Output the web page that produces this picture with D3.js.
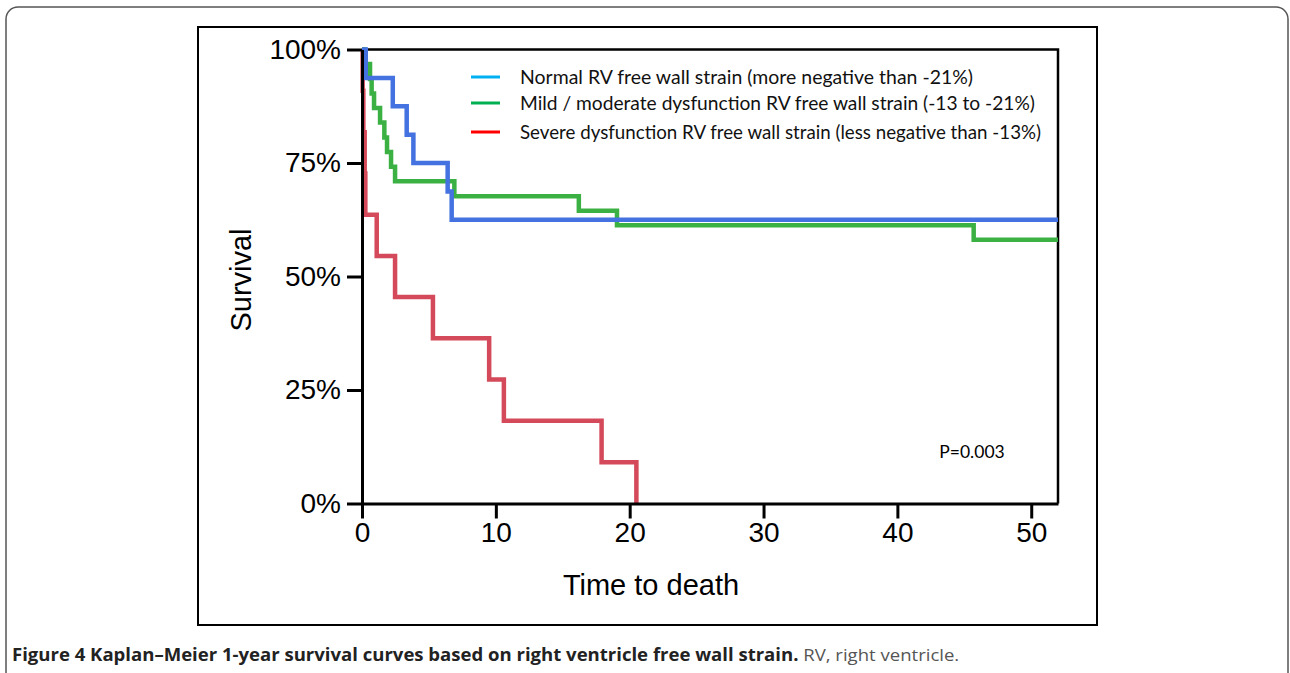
<!DOCTYPE html>
<html>
<head>
<meta charset="utf-8">
<script src="https://cdn.jsdelivr.net/npm/d3@7"></script>
<style>
  body { margin: 0; background: #fff; }
  svg { display: block; }
</style>
</head>
<body>
<div id="chart"></div>
<script>
// Kaplan-Meier curves, time (weeks) and survival (%)
const normalTimes = [0, 0.28, 2.3, 3.34, 3.84, 6.4, 6.7, 52];
const normalSurv  = [100, 93.75, 87.5, 81.25, 75, 68.75, 62.5, 62.5];

const mildTimes = [0, 0.22, 0.6, 0.72, 0.9, 1.35, 1.67, 1.87, 2.17, 2.47, 6.9, 16.2, 19.05, 45.7, 52];
const mildSurv  = [100, 96.8, 93.5, 90.3, 87.1, 83.9, 80.6, 77.4, 74.2, 71.0, 67.7, 64.5, 61.3, 58.1, 58.1];

const severeTimes = [0, 0.05, 0.1, 0.2, 0.25, 1.1, 2.47, 5.3, 9.5, 10.6, 17.9, 20.5];
const severeSurv  = [100, 90.9, 81.8, 72.7, 63.6, 54.5, 45.5, 36.4, 27.3, 18.2, 9.1, 0];

const legendLabels = [
    "Normal RV free wall strain (more negative than -21%)",
    "Mild / moderate dysfunction RV free wall strain (-13 to -21%)",
    "Severe dysfunction RV free wall strain (less negative than -13%)"
];
const legendColors = ["#00b0f0", "#00b050", "#ff0000"];
const curveColors = ["#4472e0", "#3bb143", "#d44a5a"];

const yTicks = [0, 25, 50, 75, 100];
const xTicks = [0, 10, 20, 30, 40, 50];

const width = 1290, height = 673;

let svg = d3.select("#chart").append("svg")
    .attr("width", width)
    .attr("height", height);

// outer page frame with rounded corners
svg.append("rect")
    .attr("x", 6).attr("y", 7)
    .attr("width", 1282).attr("height", 700)
    .attr("rx", 12)
    .attr("fill", "none")
    .attr("stroke", "#555")
    .attr("stroke-width", 1.5);

// figure box
svg.append("rect")
    .attr("x", 198).attr("y", 27)
    .attr("width", 899).attr("height", 598)
    .attr("fill", "none")
    .attr("stroke", "#000")
    .attr("stroke-width", 2);

const plot = { left: 362, right: 1058, top: 49.5, bottom: 503.5 };

let x = d3.scaleLinear().domain([0, 52]).range([plot.left, plot.right]);
let y = d3.scaleLinear().domain([0, 100]).range([plot.bottom, plot.top]);

// top and right frame of the plot area
svg.append("path")
    .attr("d", "M" + plot.left + "," + plot.top + "H" + plot.right + "V" + plot.bottom)
    .attr("fill", "none")
    .attr("stroke", "#000")
    .attr("stroke-width", 2.5);

let line = d3.line()
    .x(d => x(d[0]))
    .y(d => y(d[1]))
    .curve(d3.curveStepAfter);

const series = [
    { times: severeTimes, surv: severeSurv, color: curveColors[2] },
    { times: mildTimes, surv: mildSurv, color: curveColors[1] },
    { times: normalTimes, surv: normalSurv, color: curveColors[0] }
];

svg.append("g")
    .selectAll("path")
    .data(series)
    .enter().append("path")
    .attr("d", s => line(s.times.map((t, i) => [t, s.surv[i]])))
    .attr("fill", "none")
    .attr("stroke", s => s.color)
    .attr("stroke-width", 4.5);

// axes
let yAxis = svg.append("g")
    .attr("transform", "translate(" + plot.left + ",0)")
    .call(d3.axisLeft(y).tickValues(yTicks).tickFormat(d => d + "%")
        .tickSize(15).tickSizeOuter(0).tickPadding(6));

let xAxis = svg.append("g")
    .attr("transform", "translate(0," + plot.bottom + ")")
    .call(d3.axisBottom(x).tickValues(xTicks)
        .tickSize(15).tickSizeOuter(0).tickPadding(4));

[yAxis, xAxis].forEach(a => {
    a.select(".domain").attr("stroke", "#000").attr("stroke-width", 3);
    a.selectAll(".tick line").attr("stroke", "#000").attr("stroke-width", 3);
    a.selectAll(".tick text")
        .attr("fill", "#000")
        .style("font-family", "'Liberation Sans', Arial, sans-serif")
        .style("font-size", "28px");
});

// axis titles
svg.append("text")
    .attr("x", 651).attr("y", 595)
    .attr("text-anchor", "middle")
    .style("font-family", "'Liberation Sans', Arial, sans-serif")
    .style("font-size", "29px")
    .text("Time to death");

svg.append("text")
    .attr("transform", "translate(251,280) rotate(-90)")
    .attr("text-anchor", "middle")
    .style("font-family", "'Liberation Sans', Arial, sans-serif")
    .style("font-size", "29px")
    .text("Survival");

// legend
let legend = svg.append("g")
    .selectAll("g")
    .data(legendLabels)
    .enter().append("g")
    .attr("transform", (d, i) => "translate(0," + [77, 103, 132][i] + ")");

legend.append("line")
    .attr("x1", 471).attr("x2", 500)
    .attr("y1", 0).attr("y2", 0)
    .attr("stroke", (d, i) => legendColors[i])
    .attr("stroke-width", 3);

// text widths follow the narrower Calibri of the original
legend.append("text")
    .attr("x", 520).attr("y", 6.5)
    .style("font-family", "Lato, 'Open Sans', sans-serif")
    .style("font-size", "19.2px")
    .attr("fill", "#111")
    .attr("textLength", (d, i) => [453, 515, 521][i])
    .attr("lengthAdjust", "spacingAndGlyphs")
    .text(d => d);

svg.append("text")
    .attr("x", 972).attr("y", 458)
    .attr("text-anchor", "middle")
    .style("font-family", "Lato, 'Open Sans', sans-serif")
    .style("font-size", "17.5px")
    .text("P=0.003");

// caption
let caption = svg.append("text")
    .attr("x", 12).attr("y", 661)
    .style("font-family", "'Open Sans', sans-serif")
    .style("font-size", "17px");

caption.append("tspan")
    .attr("font-weight", "bold")
    .attr("fill", "#222")
    .text("Figure 4 Kaplan\u2013Meier 1-year survival curves based on right ventricle free wall strain.");

caption.append("tspan")
    .attr("fill", "#555")
    .text(" RV, right ventricle.");

// squeeze caption to the condensed width of the original typeface
let capW = caption.node().getComputedTextLength();
let sx = (960 - 12) / capW;
caption.attr("transform", "translate(12,0) scale(" + sx + ",1) translate(-12,0)");
</script>
</body>
</html>
